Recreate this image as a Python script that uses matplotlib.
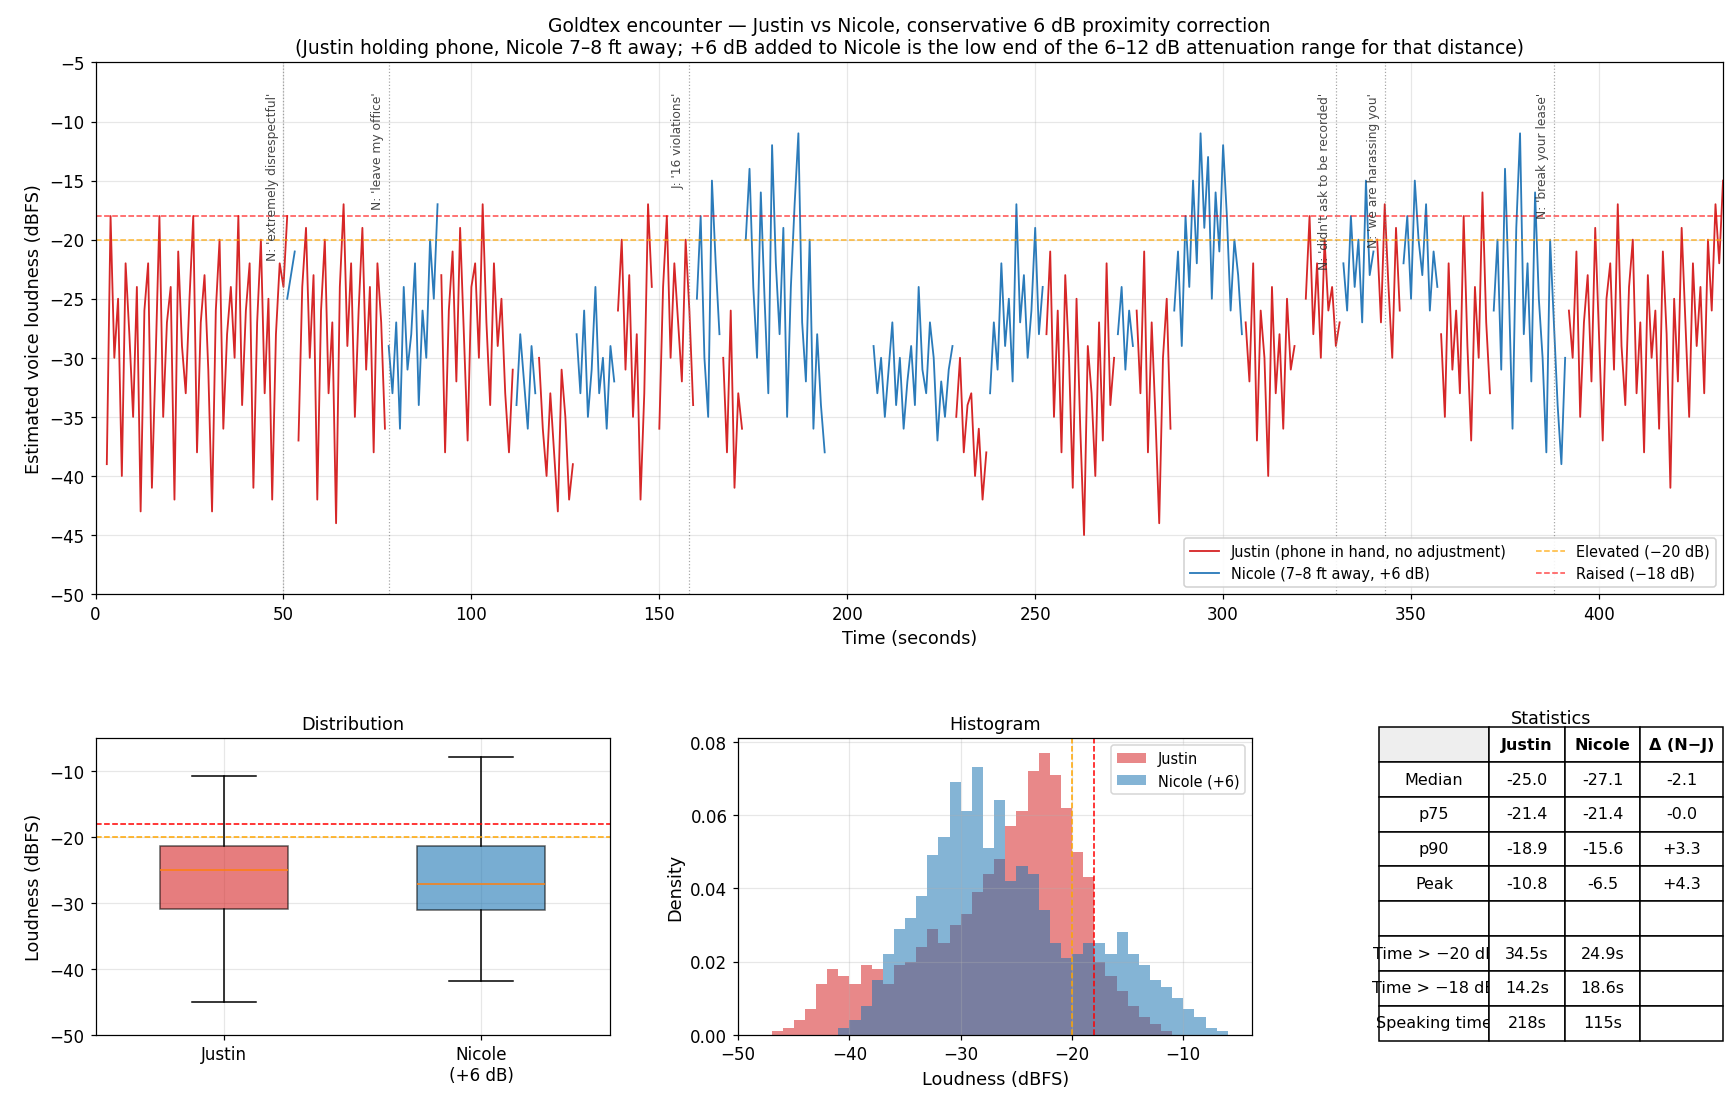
import numpy as np
import matplotlib
matplotlib.use("Agg")
import matplotlib.pyplot as plt

# time series segments: (speaker, start second, values at 1 s steps)
SEGMENTS = [
    ("J", 3, [-39, -18, -30, -25, -40, -22, -28, -35, -24, -43, -26, -22, -41, -30, -18, -35, -27, -24, -42, -21, -29, -33, -25, -18, -38, -27, -23, -31, -43, -26, -20, -36, -28, -24, -30, -18, -34, -26, -22, -41, -27, -20, -33, -25, -42, -28, -22, -24, -18]),
    ("N", 51, [-25, -23, -21]),
    ("J", 54, [-37, -24, -19, -30, -23, -42, -26, -20, -33, -27, -44, -24, -17, -29, -22, -35, -26, -19, -31, -24, -38, -22, -27, -36]),
    ("N", 78, [-29, -33, -27, -36, -24, -31, -28, -22, -34, -26, -30, -20, -25, -17]),
    ("J", 92, [-23, -38, -26, -21, -32, -19, -28, -37, -24, -22, -30, -17, -27, -34, -22, -29, -25, -33, -38, -31]),
    ("N", 112, [-34, -28, -32, -36, -29, -33]),
    ("J", 118, [-30, -36, -40, -33, -38, -43, -31, -35, -42, -39]),
    ("N", 128, [-28, -33, -26, -35, -31, -24, -33, -30, -36, -29, -32]),
    ("J", 139, [-26, -20, -31, -23, -35, -28, -42, -33, -17, -24]),
    ("J", 150, [-36, -24, -18, -30, -22, -27, -32, -20, -26, -34]),
    ("N", 160, [-25, -18, -30, -35, -15, -22, -28]),
    ("J", 167, [-30, -38, -26, -41, -33, -36]),
    ("N", 173, [-20, -14, -24, -30, -16, -25, -33, -12, -22, -28, -19, -35, -24, -17, -11, -27, -32, -20, -36, -28, -34, -38]),
    ("N", 207, [-29, -33, -30, -35, -31, -27, -34, -30, -36, -32, -29, -34, -24, -31, -33, -27, -30, -37, -32, -35, -31, -29]),
    ("J", 229, [-35, -30, -38, -34, -33, -40, -36, -42, -38]),
    ("N", 238, [-33, -27, -31, -22, -29, -25, -32, -17, -27, -23, -30, -26, -19, -28, -24]),
    ("J", 253, [-28, -21, -35, -26, -38, -23, -30, -41, -25, -36, -45, -29, -33, -40, -27, -37, -22, -34, -30]),
    ("N", 272, [-28, -24, -31, -26, -29]),
    ("J", 277, [-26, -33, -21, -38, -27, -35, -44, -30, -25, -36]),
    ("N", 287, [-26, -21, -29, -18, -24, -15, -22, -11, -19, -13, -25, -16, -21, -12, -18, -26, -20, -23, -28]),
    ("J", 306, [-27, -32, -22, -37, -26, -30, -40, -24, -33, -28, -36, -25, -31, -29]),
    ("J", 322, [-25, -18, -28, -22, -30, -20, -26, -24, -29, -27]),
    ("N", 332, [-22, -26, -18, -24, -20, -27, -15, -23, -21]),
    ("J", 341, [-20, -27, -17, -24, -30, -19, -26]),
    ("N", 348, [-22, -18, -25, -15, -20, -23, -17, -26, -21, -24]),
    ("J", 358, [-28, -35, -22, -31, -26, -33, -18, -29, -37, -24, -30, -16, -27, -33]),
    ("N", 372, [-26, -20, -31, -14, -24, -36, -19, -11, -28, -22, -32, -16, -25, -30, -38, -20, -27, -34, -39, -30]),
    ("J", 392, [-26, -30, -21, -35, -27, -23, -32, -19, -28, -37, -25, -22, -31, -17, -29, -34, -24, -20, -33, -27, -38, -23, -30, -26, -36, -21, -28, -41, -25, -32, -19, -27, -35, -22, -29, -24, -33, -20, -26, -17, -22, -15]),
]

EVENTS = [
    (50, "N: 'extremely disrespectful'"),
    (78, "N: 'leave my office'"),
    (158, "J: '16 violations'"),
    (330, "N: 'didn't ask to be recorded'"),
    (343, "N: 'we are harassing you'"),
    (388, "N: 'break your lease'"),
]

# histogram densities, 1 dB bins
J_HIST_START = -47
J_HIST = [0.001, 0.002, 0.004, 0.007, 0.014, 0.018, 0.016, 0.014, 0.019, 0.018, 0.014, 0.019,
          0.020, 0.024, 0.029, 0.025, 0.030, 0.033, 0.039, 0.044, 0.048, 0.057, 0.061, 0.072,
          0.077, 0.071, 0.062, 0.050, 0.043, 0.020, 0.016, 0.012, 0.008, 0.005, 0.003, 0.001]
N_HIST_START = -41
N_HIST = [0.002, 0.004, 0.008, 0.015, 0.022, 0.029, 0.032, 0.038, 0.049, 0.054, 0.069, 0.061,
          0.073, 0.051, 0.064, 0.042, 0.046, 0.044, 0.034, 0.025, 0.021, 0.022, 0.025, 0.025,
          0.022, 0.028, 0.022, 0.019, 0.015, 0.013, 0.010, 0.007, 0.005, 0.002, 0.001]

# box stats
BOX_LABELS = ["Justin", "Nicole\n(+6 dB)"]
BOX_MED = [-25.0, -27.1]
BOX_Q1 = [-30.9, -31.0]
BOX_Q3 = [-21.4, -21.4]
BOX_LO = [-45.0, -41.8]
BOX_HI = [-10.8, -7.8]

TABLE_COLS = ["", "Justin", "Nicole", "Δ (N−J)"]
TABLE_ROWS = [
    ["Median", "-25.0", "-27.1", "-2.1"],
    ["p75", "-21.4", "-21.4", "-0.0"],
    ["p90", "-18.9", "-15.6", "+3.3"],
    ["Peak", "-10.8", "-6.5", "+4.3"],
    ["", "", "", ""],
    ["Time > −20 dB", "34.5s", "24.9s", ""],
    ["Time > −18 dB", "14.2s", "18.6s", ""],
    ["Speaking time", "218s", "115s", ""],
]

RED = "#d62728"
BLUE = "#1f77b4"

fig = plt.figure(figsize=(15.79, 10.07), dpi=110)

ax = fig.add_axes([0.055, 0.463, 0.937, 0.48])
first = {"J": True, "N": True}
for spk, start, vals in SEGMENTS:
    t = start + np.arange(len(vals))
    if spk == "J":
        lab = "Justin (phone in hand, no adjustment)" if first["J"] else None
        ax.plot(t, vals, color=RED, lw=1.2, label=lab)
    else:
        lab = "Nicole (7–8 ft away, +6 dB)" if first["N"] else None
        ax.plot(t, vals, color="#2b7bba", lw=1.2, label=lab)
    first[spk] = False
ax.axhline(-20, color="orange", ls="--", lw=1, alpha=0.8, label="Elevated (−20 dB)")
ax.axhline(-18, color="red", ls="--", lw=1, alpha=0.7, label="Raised (−18 dB)")
for x, txt in EVENTS:
    ax.axvline(x, color="gray", ls=":", lw=0.8, alpha=0.7)
    ax.text(x - 1.2, -7.5, txt, rotation=90, va="top", ha="right", fontsize=8, color="#333333", alpha=0.9)
ax.set_xlim(0, 433)
ax.set_ylim(-50, -5)
ax.grid(alpha=0.3)
ax.set_xlabel("Time (seconds)", fontsize=11.5)
ax.set_ylabel("Estimated voice loudness (dBFS)", fontsize=11.5)
ax.set_title("Goldtex encounter — Justin vs Nicole, conservative 6 dB proximity correction\n"
             "(Justin holding phone, Nicole 7–8 ft away; +6 dB added to Nicole is the low end of the 6–12 dB attenuation range for that distance)",
             fontsize=12.3)
ax.tick_params(labelsize=11)
ax.legend(loc="lower right", ncol=2, fontsize=9.5, framealpha=0.9)

# box plot
axb = fig.add_axes([0.055, 0.065, 0.296, 0.268])
stats = [dict(med=BOX_MED[i], q1=BOX_Q1[i], q3=BOX_Q3[i], whislo=BOX_LO[i], whishi=BOX_HI[i],
              label=BOX_LABELS[i], fliers=[]) for i in range(2)]
bp = axb.bxp(stats, patch_artist=True, widths=0.5, showfliers=False)
for patch, c in zip(bp["boxes"], [RED, BLUE]):
    patch.set_facecolor(c)
    patch.set_alpha(0.6)
for m in bp["medians"]:
    m.set_color("#ff7f0e")
axb.axhline(-18, color="red", ls="--", lw=1)
axb.axhline(-20, color="orange", ls="--", lw=1)
axb.set_ylim(-50, -5)
axb.set_ylabel("Loudness (dBFS)", fontsize=11.5)
axb.set_title("Distribution", fontsize=11.5)
axb.grid(alpha=0.3)
axb.tick_params(labelsize=11)

# histogram
axh = fig.add_axes([0.425, 0.065, 0.296, 0.268])
je = J_HIST_START + np.arange(len(J_HIST) + 1)
ne = N_HIST_START + np.arange(len(N_HIST) + 1)
axh.stairs(J_HIST, je, fill=True, color=RED, alpha=0.55, label="Justin")
axh.stairs(N_HIST, ne, fill=True, color=BLUE, alpha=0.55, label="Nicole (+6)")
axh.axvline(-20, color="orange", ls="--", lw=1)
axh.axvline(-18, color="red", ls="--", lw=1)
axh.set_xlim(-50, -3.8)
axh.set_ylim(0, 0.081)
axh.set_xlabel("Loudness (dBFS)", fontsize=11.5)
axh.set_ylabel("Density", fontsize=11.5)
axh.set_title("Histogram", fontsize=11.5)
axh.grid(alpha=0.3)
axh.tick_params(labelsize=11)
axh.legend(fontsize=9.5, loc="upper right")

# table
axt = fig.add_axes([0.794, 0.06, 0.198, 0.283])
axt.axis("off")
axt.set_title("Statistics", fontsize=11.5, pad=0)
tbl = axt.table(cellText=TABLE_ROWS, colLabels=TABLE_COLS, cellLoc="center",
                colWidths=[0.32, 0.22, 0.22, 0.24], bbox=[0, 0, 1, 1])
tbl.auto_set_font_size(False)
tbl.set_fontsize(10.5)
for (r, c), cell in tbl.get_celld().items():
    if r == 0:
        cell.set_text_props(fontweight="bold")
        if c == 0:
            cell.set_facecolor("#eeeeee")
fig.savefig("out.png", dpi=110)
